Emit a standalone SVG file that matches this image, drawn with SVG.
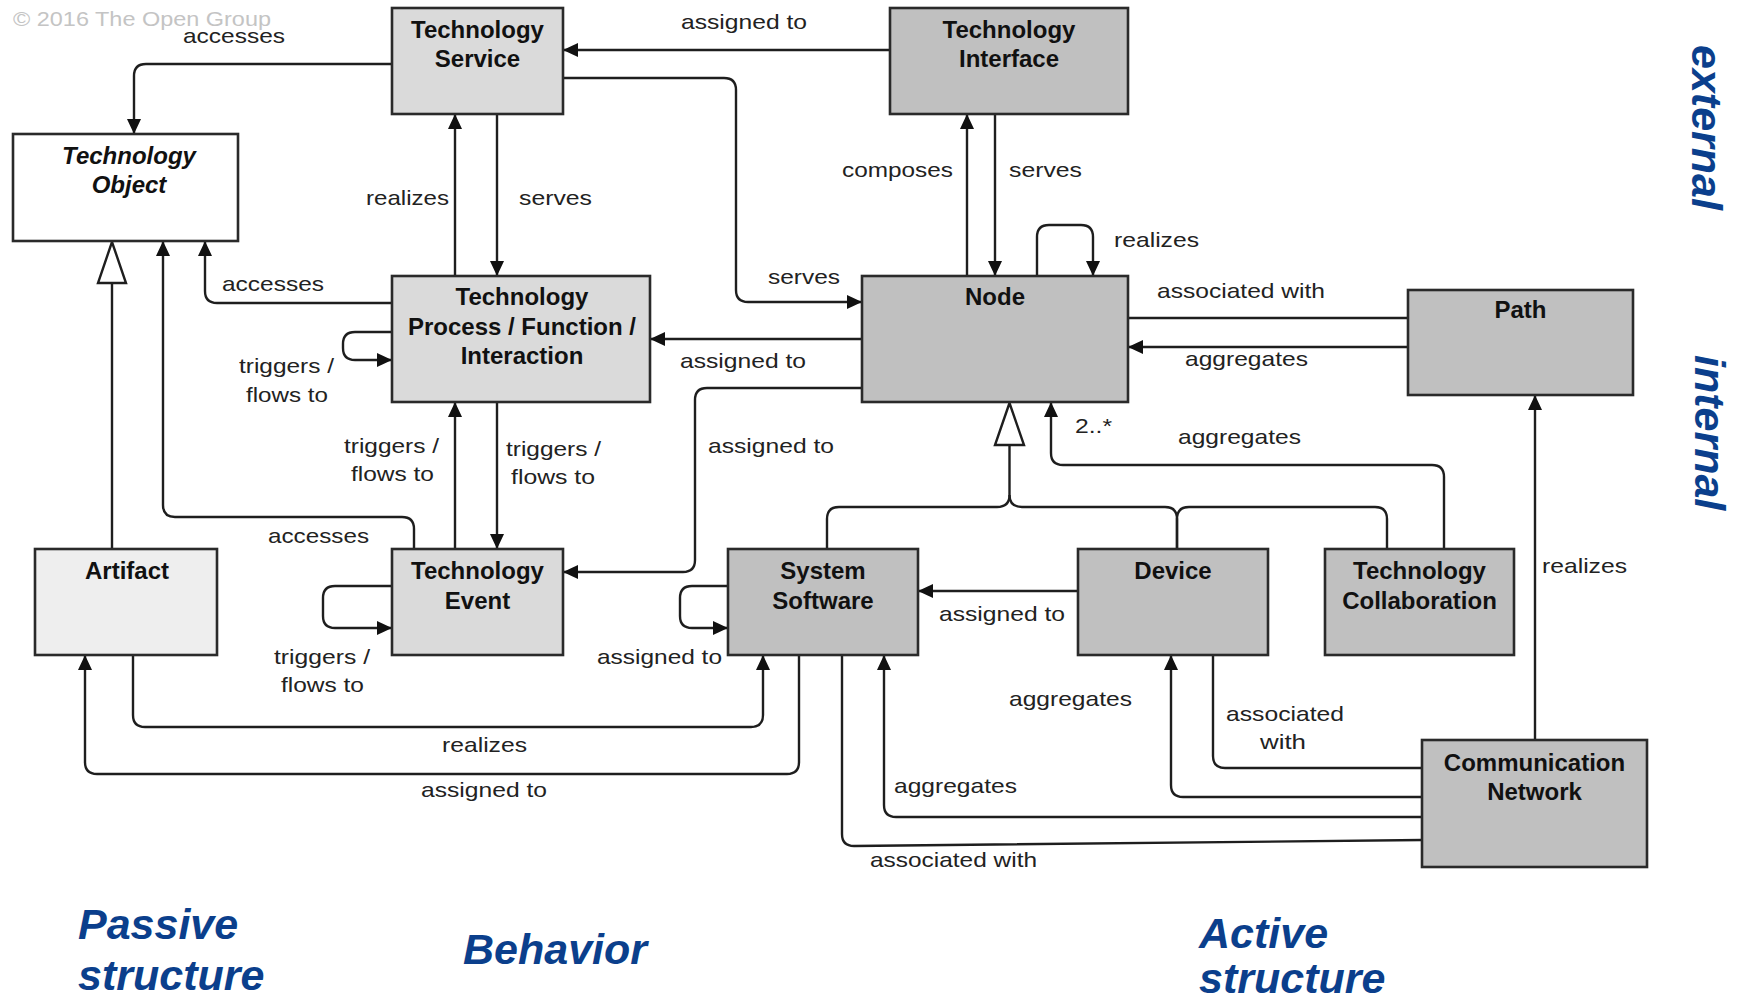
<svg xmlns="http://www.w3.org/2000/svg" width="1738" height="1002" viewBox="0 0 1738 1002">
<style>
.box{stroke:#2a2a2a;stroke-width:2.6}
.lt{fill:#dadada}.dk{fill:#c0c0c0}.wh{fill:#ffffff}.xl{fill:#eeeeee}
.nt{font-family:"Liberation Sans",Arial,sans-serif;font-weight:bold;font-size:24px;fill:#111;text-anchor:middle}
.it{font-style:italic}
.c{fill:none;stroke:#1e1e1e;stroke-width:2.4}
.a{marker-end:url(#arr)}
.lb{font-family:"Liberation Sans",Arial,sans-serif;font-size:21px;fill:#222}
.bl{font-family:"Liberation Sans",Arial,sans-serif;font-size:43px;font-weight:bold;font-style:italic;fill:#0b3f8c}
.gen{fill:#fff;stroke:#1e1e1e;stroke-width:2.4}
</style>
<defs>
<marker id="arr" viewBox="0 0 15 14" refX="15" refY="7" markerWidth="15" markerHeight="14" markerUnits="userSpaceOnUse" orient="auto">
<path d="M0,0 L15,7 L0,14 z" fill="#111"/>
</marker>
</defs>
<rect width="1738" height="1002" fill="#fff"/>
<text x="13" y="26" class="lb" style="fill:#c4c4c4" textLength="258" lengthAdjust="spacingAndGlyphs">© 2016 The Open Group</text>

<g id="connectors">
<path class="c a" d="M392 64 H146 Q134 64 134 76 V134"/>
<path class="c a" d="M890 50 H563"/>
<path class="c a" d="M563 78 H724 Q736 78 736 90 V290 Q736 302 748 302 H862"/>
<path class="c a" d="M455 276 V114"/>
<path class="c a" d="M497 114 V276"/>
<path class="c a" d="M967 276 V114"/>
<path class="c a" d="M995 114 V276"/>
<path class="c a" d="M1037 276 V237 Q1037 225 1049 225 H1081 Q1093 225 1093 237 V276"/>
<path class="c" d="M1408 318 H1128"/>
<path class="c a" d="M1408 347 H1128"/>
<path class="c a" d="M1535 740 V395"/>
<path class="c a" d="M1444 549 V477 Q1444 465 1432 465 H1063 Q1051 465 1051 453 V402"/>
<path class="c" d="M827 549 V519 Q827 507 839 507 H997 Q1009.5 507 1009.5 495 V445"/>
<path class="c" d="M1009.5 495 Q1009.5 507 1022 507 H1165 Q1177 507 1177 519 V549"/>
<path class="c" d="M1177 549 V519 Q1177 507 1189 507 H1375 Q1387 507 1387 519 V549"/>
<polygon class="gen" points="1009.5,403 995,445 1024,445"/>
<path class="c a" d="M862 339 H650"/>
<path class="c a" d="M862 388 H707 Q695 388 695 400 V560 Q695 572 683 572 H563"/>
<path class="c a" d="M392 303 H217 Q205 303 205 291 V241"/>
<path class="c a" d="M392 332 H355 Q343 332 343 344 V348 Q343 360 355 360 H392"/>
<path class="c a" d="M455 549 V402"/>
<path class="c a" d="M497 402 V549"/>
<path class="c a" d="M414 549 V529 Q414 517 402 517 H175 Q163 517 163 505 V241"/>
<path class="c" d="M112 549 V283"/>
<polygon class="gen" points="112,242 98,283 126,283"/>
<path class="c a" d="M392 586 H335 Q323 586 323 598 V616 Q323 628 335 628 H392"/>
<path class="c a" d="M728 586 H692 Q680 586 680 598 V616 Q680 628 692 628 H728"/>
<path class="c a" d="M133 655 V715 Q133 727 145 727 H751 Q763 727 763 715 V655"/>
<path class="c a" d="M799 655 V762 Q799 774 787 774 H97 Q85 774 85 762 V655"/>
<path class="c a" d="M1078 591 H918"/>
<path class="c" d="M1422 768 H1225 Q1213 768 1213 756 V655"/>
<path class="c a" d="M1422 797 H1183 Q1171 797 1171 785 V655"/>
<path class="c a" d="M1422 817 H896 Q884 817 884 805 V655"/>
<path class="c" d="M1422 840 L854 846 Q842 846 842 834 V655"/>
</g>

<g id="labels" class="lb">
<text x="183" y="43" textLength="102" lengthAdjust="spacingAndGlyphs">accesses</text>
<text x="681" y="29" textLength="126" lengthAdjust="spacingAndGlyphs">assigned to</text>
<text x="366" y="205" textLength="83" lengthAdjust="spacingAndGlyphs">realizes</text>
<text x="519" y="205" textLength="73" lengthAdjust="spacingAndGlyphs">serves</text>
<text x="842" y="177" textLength="111" lengthAdjust="spacingAndGlyphs">composes</text>
<text x="1009" y="177" textLength="73" lengthAdjust="spacingAndGlyphs">serves</text>
<text x="1114" y="247" textLength="85" lengthAdjust="spacingAndGlyphs">realizes</text>
<text x="1157" y="298" textLength="168" lengthAdjust="spacingAndGlyphs">associated with</text>
<text x="1185" y="366" textLength="123" lengthAdjust="spacingAndGlyphs">aggregates</text>
<text x="768" y="284" textLength="72" lengthAdjust="spacingAndGlyphs">serves</text>
<text x="680" y="368" textLength="126" lengthAdjust="spacingAndGlyphs">assigned to</text>
<text x="708" y="453" textLength="126" lengthAdjust="spacingAndGlyphs">assigned to</text>
<text x="222" y="291" textLength="102" lengthAdjust="spacingAndGlyphs">accesses</text>
<text x="239" y="373" textLength="95" lengthAdjust="spacingAndGlyphs">triggers /</text>
<text x="246" y="402" textLength="82" lengthAdjust="spacingAndGlyphs">flows to</text>
<text x="344" y="453" textLength="95" lengthAdjust="spacingAndGlyphs">triggers /</text>
<text x="351" y="481" textLength="83" lengthAdjust="spacingAndGlyphs">flows to</text>
<text x="506" y="456" textLength="95" lengthAdjust="spacingAndGlyphs">triggers /</text>
<text x="511" y="484" textLength="84" lengthAdjust="spacingAndGlyphs">flows to</text>
<text x="268" y="543" textLength="101" lengthAdjust="spacingAndGlyphs">accesses</text>
<text x="274" y="664" textLength="96" lengthAdjust="spacingAndGlyphs">triggers /</text>
<text x="281" y="692" textLength="83" lengthAdjust="spacingAndGlyphs">flows to</text>
<text x="597" y="664" textLength="125" lengthAdjust="spacingAndGlyphs">assigned to</text>
<text x="442" y="752" textLength="85" lengthAdjust="spacingAndGlyphs">realizes</text>
<text x="421" y="797" textLength="126" lengthAdjust="spacingAndGlyphs">assigned to</text>
<text x="939" y="621" textLength="126" lengthAdjust="spacingAndGlyphs">assigned to</text>
<text x="1009" y="706" textLength="123" lengthAdjust="spacingAndGlyphs">aggregates</text>
<text x="1226" y="721" textLength="118" lengthAdjust="spacingAndGlyphs">associated</text>
<text x="1260" y="749" textLength="46" lengthAdjust="spacingAndGlyphs">with</text>
<text x="894" y="793" textLength="123" lengthAdjust="spacingAndGlyphs">aggregates</text>
<text x="870" y="867" textLength="167" lengthAdjust="spacingAndGlyphs">associated with</text>
<text x="1542" y="573" textLength="85" lengthAdjust="spacingAndGlyphs">realizes</text>
<text x="1178" y="444" textLength="123" lengthAdjust="spacingAndGlyphs">aggregates</text>
<text x="1075" y="433" textLength="37" lengthAdjust="spacingAndGlyphs">2..*</text>
</g>

<g id="technology-service"><rect class="box lt" x="392" y="8" width="171" height="106"/><text class="nt" x="477.5" y="38">Technology</text><text class="nt" x="477.5" y="67">Service</text></g>
<g id="technology-interface"><rect class="box dk" x="890" y="8" width="238" height="106"/><text class="nt" x="1009" y="38">Technology</text><text class="nt" x="1009" y="67">Interface</text></g>
<g id="technology-object"><rect class="box wh" x="13" y="134" width="225" height="107"/><text class="nt it" x="129" y="164">Technology</text><text class="nt it" x="129" y="193">Object</text></g>
<g id="technology-process"><rect class="box lt" x="392" y="276" width="258" height="126"/><text class="nt" x="522" y="305">Technology</text><text class="nt" x="522" y="334.5">Process / Function /</text><text class="nt" x="522" y="364">Interaction</text></g>
<g id="node"><rect class="box dk" x="862" y="276" width="266" height="126"/><text class="nt" x="995" y="305">Node</text></g>
<g id="path"><rect class="box dk" x="1408" y="290" width="225" height="105"/><text class="nt" x="1520.5" y="318">Path</text></g>
<g id="artifact"><rect class="box xl" x="35" y="549" width="182" height="106"/><text class="nt" x="127" y="579">Artifact</text></g>
<g id="technology-event"><rect class="box lt" x="392" y="549" width="171" height="106"/><text class="nt" x="477.5" y="579">Technology</text><text class="nt" x="477.5" y="608.5">Event</text></g>
<g id="system-software"><rect class="box dk" x="728" y="549" width="190" height="106"/><text class="nt" x="823" y="579">System</text><text class="nt" x="823" y="608.5">Software</text></g>
<g id="device"><rect class="box dk" x="1078" y="549" width="190" height="106"/><text class="nt" x="1173" y="579">Device</text></g>
<g id="technology-collaboration"><rect class="box dk" x="1325" y="549" width="189" height="106"/><text class="nt" x="1419.5" y="579">Technology</text><text class="nt" x="1419.5" y="608.5">Collaboration</text></g>
<g id="communication-network"><rect class="box dk" x="1422" y="740" width="225" height="127"/><text class="nt" x="1534.5" y="771">Communication</text><text class="nt" x="1534.5" y="800">Network</text></g>

<g id="aspect-labels" class="bl">
<text x="78" y="939">Passive</text>
<text x="78" y="990">structure</text>
<text x="463" y="964">Behavior</text>
<text x="1199" y="948">Active</text>
<text x="1199" y="993">structure</text>
<text transform="translate(1692,45) rotate(90)">external</text>
<text transform="translate(1695,355) rotate(90)">internal</text>
</g>
</svg>
